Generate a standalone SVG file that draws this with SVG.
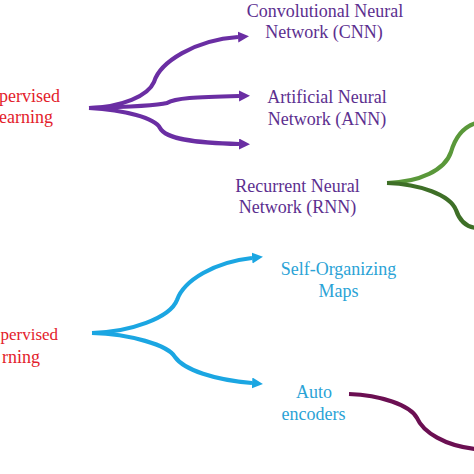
<svg xmlns="http://www.w3.org/2000/svg" width="474" height="474" viewBox="0 0 474 474">
<defs>
<style>
.red{fill:#e3212b;}
.pur{fill:#5c2f8f;text-anchor:middle;}
.cyan{fill:#2aa3d6;text-anchor:middle;}
.end{text-anchor:end;}
.c{fill:none;stroke-width:4.2;stroke-linecap:butt;}
.p{stroke:#6a2ea3;}
.b{stroke:#1ba6e2;}
</style>
<marker id="ap" markerUnits="userSpaceOnUse" markerWidth="14" markerHeight="12" refX="0" refY="5.5" orient="auto">
<path d="M0,0 L11,5.5 L0,11 z" fill="#6a2ea3"/>
</marker>
<marker id="ab" markerUnits="userSpaceOnUse" markerWidth="14" markerHeight="12" refX="0" refY="5.5" orient="auto">
<path d="M0,0 L11,5.5 L0,11 z" fill="#1ba6e2"/>
</marker>
</defs>
<rect width="474" height="474" fill="#ffffff"/>
<g id="connectors">
<path class="c p" d="M89,108 C122,107 148,96 154,82 C160,62 195,40 238,37" marker-end="url(#ap)"/>
<path class="c p" d="M89,108 C125,107 155,106 167,103 C175,98 195,97 239,96" marker-end="url(#ap)"/>
<path class="c p" d="M89,108 C125,110 155,118 160,128 C166,140 200,143 239,144" marker-end="url(#ap)"/>
<path class="c" stroke="#5a983a" d="M387,183 C420,182 445,170 451,152 C455,138 463,127 476,123"/>
<path class="c" stroke="#3e6f27" d="M387,183 C420,184 450,195 456,210 C460,222 467,227 476,228"/>
<path class="c b" d="M92,333 C130,332 170,318 177,300 C184,280 215,262 252,258" marker-end="url(#ab)"/>
<path class="c b" d="M92,333 C130,334 168,345 175,357 C184,370 215,380 252,383" marker-end="url(#ab)"/>
<path class="c" stroke="#6b0f52" d="M349,394 C380,395 410,405 417,418 C423,432 445,446 476,449"/>
</g>
<g font-family="'Liberation Serif', 'Times New Roman', 'DejaVu Serif', serif" font-size="18">
<g id="supervised">
<text class="red end" x="60" y="102">pervised</text>
<text class="red end" x="53" y="123">earning</text>
</g>
<g id="cnn">
<text class="pur" x="325" y="17">Convolutional Neural</text>
<text class="pur" x="324" y="38">Network (CNN)</text>
</g>
<g id="ann">
<text class="pur" x="327" y="103">Artificial Neural</text>
<text class="pur" x="327" y="125">Network (ANN)</text>
</g>
<g id="rnn">
<text class="pur" x="297.5" y="192">Recurrent Neural</text>
<text class="pur" x="297.5" y="213">Network (RNN)</text>
</g>
<g id="unsupervised">
<text class="red" x="0.5" y="340" font-size="17">pervised</text>
<text class="red end" x="40" y="363">rning</text>
</g>
<g id="som">
<text class="cyan" x="338.5" y="275">Self-Organizing</text>
<text class="cyan" x="338.5" y="297">Maps</text>
</g>
<g id="autoencoders">
<text class="cyan" x="314" y="398">Auto</text>
<text class="cyan" x="313.5" y="420">encoders</text>
</g>
</g>
</svg>
